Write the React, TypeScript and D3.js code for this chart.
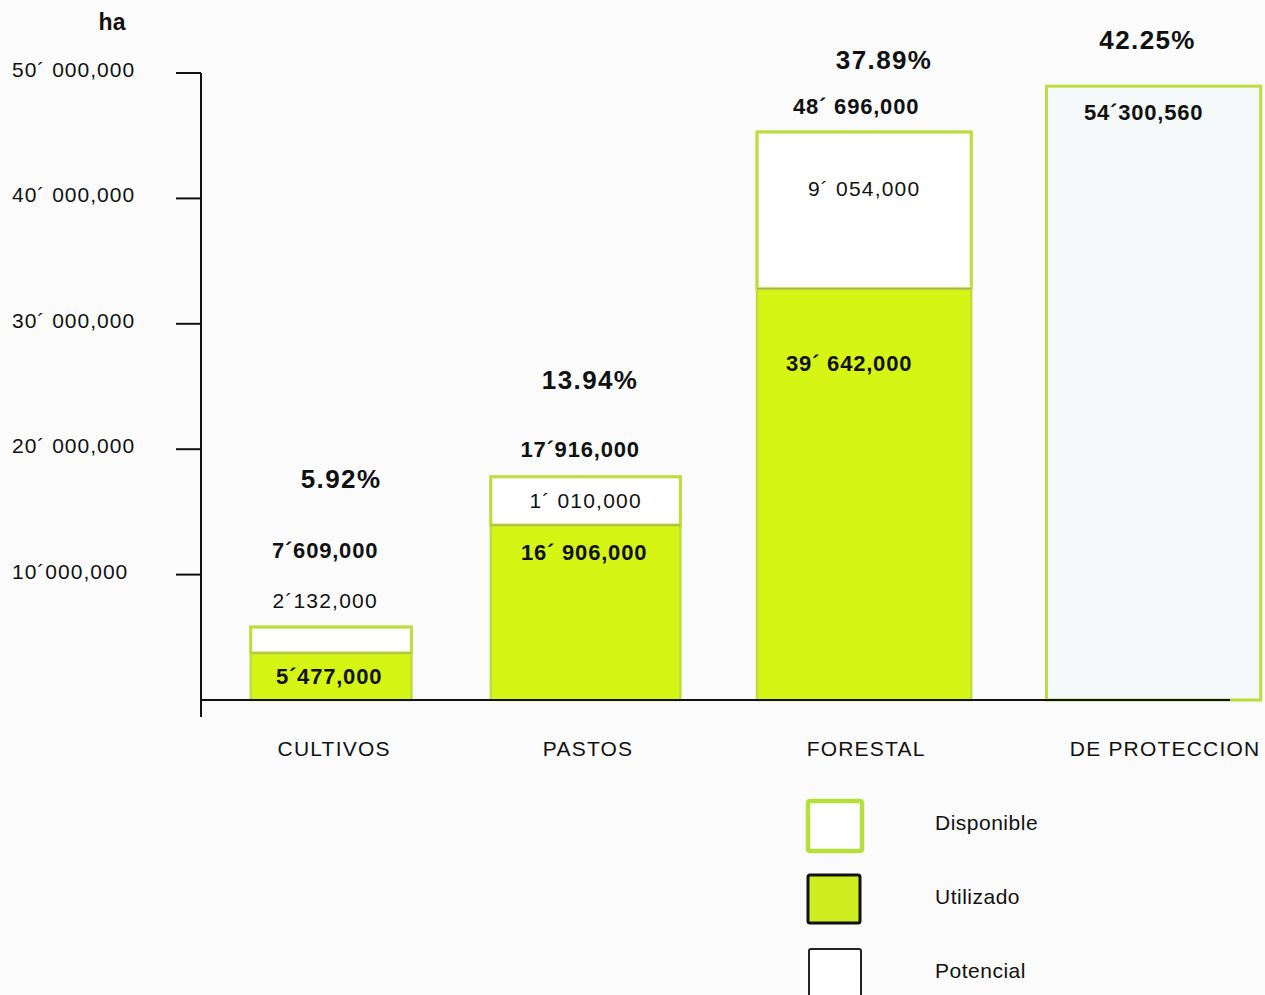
import React from "react";
import * as d3 from "d3";

// ---------- data ----------
const categories = ["CULTIVOS", "PASTOS", "FORESTAL", "DE PROTECCION"];
// bar heights as drawn in the picture (ha)
const totalDrawn = [5.82e6, 17.8e6, 45.3e6, 48.95e6];
const utilizadoDrawn = [3.75e6, 13.95e6, 32.8e6, 0];
// printed labels
const totalLabels = ["7´609,000", "17´916,000", "48´ 696,000", "54´300,560"];
const utilizadoLabels = ["5´477,000", "16´ 906,000", "39´ 642,000", ""];
const disponibleLabels = ["2´132,000", "1´ 010,000", "9´ 054,000", ""];
const percentLabels = ["5.92%", "13.94%", "37.89%", "42.25%"];
const yTicks = [10e6, 20e6, 30e6, 40e6, 50e6];
const yTickLabels = ["10´000,000", "20´ 000,000", "30´ 000,000", "40´ 000,000", "50´ 000,000"];
const legendLabels = ["Disponible", "Utilizado", "Potencial"];

// ---------- style / layout ----------
const FONT = "'Liberation Sans', Arial, Helvetica, sans-serif";
const GREEN = "#d5f514";
const GREEN_EDGE = "#bddd3e";
const INK = "#111";
const widthRatio = [0.75, 0.885, 1.0, 1.0];
const centerNudge = [9.4, -10.7, -6.8, 8.1];

export default function App() {
  const W = 1265;
  const H = 995;
  const y = d3.scaleLinear().domain([0, 50e6]).range([700, 73]);
  const x = d3.scaleBand<string>().domain(categories).range([214.6, 1252.6]).paddingInner(0.22).paddingOuter(0);
  const bw = x.bandwidth();
  const cx = (c: string) => (x(c) as number) + bw / 2 + centerNudge[categories.indexOf(c)];

  const valueStyle = (bold: boolean) => ({
    fontFamily: FONT,
    fontSize: bold ? 22 : 21,
    fontWeight: bold ? 700 : 400,
    letterSpacing: bold ? 0.8 : 1.2,
    fill: INK,
  });
  const pctStyle = { fontFamily: FONT, fontSize: 26, fontWeight: 700, letterSpacing: 1.4, fill: INK };

  return (
    <svg width={W} height={H} style={{ position: "fixed", left: 0, top: 0, background: "#fbfbfb" }}>
      <rect x={0} y={0} width={W} height={H} fill="#fbfbfb" />

      {/* bars */}
      {categories.map((c, i) => {
        const w = bw * widthRatio[i];
        const x0 = cx(c) - w / 2;
        const yTop = y(totalDrawn[i]);
        const yUt = y(utilizadoDrawn[i]);
        const y0 = y(0);
        const isProt = utilizadoDrawn[i] === 0;
        return (
          <g key={c}>
            {isProt ? (
              <rect x={x0} y={yTop} width={w} height={y0 - yTop} fill="#f6f9f9" stroke={GREEN_EDGE} strokeWidth={3} />
            ) : (
              <>
                <rect x={x0} y={yUt} width={w} height={y0 - yUt} fill={GREEN} />
                <rect x={x0} y={yTop} width={w} height={yUt - yTop} fill="#ffffff" stroke={GREEN_EDGE} strokeWidth={3} />
                <rect x={x0} y={yTop} width={w} height={y0 - yTop} fill="none" stroke={GREEN_EDGE} strokeWidth={2.5} />
                <line x1={x0} x2={x0 + w} y1={yUt} y2={yUt} stroke="#a7b34a" strokeWidth={1.2} />
              </>
            )}
          </g>
        );
      })}

      {/* axes */}
      <line x1={201} x2={201} y1={y(50e6)} y2={717} stroke={INK} strokeWidth={2} />
      <line x1={201} x2={1230} y1={y(0)} y2={y(0)} stroke={INK} strokeWidth={2} />
      {yTicks.map((t, i) => (
        <g key={t}>
          <line x1={176} x2={201} y1={y(t)} y2={y(t)} stroke={INK} strokeWidth={2} />
          <text x={12} y={y(t) + 4} style={{ fontFamily: FONT, fontSize: 21, letterSpacing: 1, fill: INK }}>
            {yTickLabels[i]}
          </text>
        </g>
      ))}
      <text x={112} y={30} textAnchor="middle" style={{ fontFamily: FONT, fontSize: 23, fontWeight: 700, fill: INK }}>
        ha
      </text>

      {/* labels */}
      {categories.map((c, i) => {
        const xc = cx(c);
        const yTop = y(totalDrawn[i]);
        const yUt = y(utilizadoDrawn[i]);
        const y0 = y(0);
        const items: React.ReactNode[] = [];
        const tb = 7.5; // half cap height
        if (i === 0) {
          items.push(<text key="u" x={xc - 2} y={(yUt + y0) / 2 + tb} textAnchor="middle" style={valueStyle(true)}>{utilizadoLabels[i]}</text>);
          items.push(<text key="d" x={xc - 6} y={yTop - 27 + tb} textAnchor="middle" style={valueStyle(false)}>{disponibleLabels[i]}</text>);
          items.push(<text key="t" x={xc - 6} y={yTop - 77 + tb} textAnchor="middle" style={valueStyle(true)}>{totalLabels[i]}</text>);
          items.push(<text key="p" x={xc + 10} y={yTop - 148 + 9} textAnchor="middle" style={pctStyle}>{percentLabels[i]}</text>);
        } else if (i === 1) {
          items.push(<text key="u" x={xc - 1.5} y={yUt + 27 + tb} textAnchor="middle" style={valueStyle(true)}>{utilizadoLabels[i]}</text>);
          items.push(<text key="d" x={xc} y={(yTop + yUt) / 2 + tb} textAnchor="middle" style={valueStyle(false)}>{disponibleLabels[i]}</text>);
          items.push(<text key="t" x={xc - 5.5} y={yTop - 27 + tb} textAnchor="middle" style={valueStyle(true)}>{totalLabels[i]}</text>);
          items.push(<text key="p" x={xc + 4.5} y={yTop - 97 + 9} textAnchor="middle" style={pctStyle}>{percentLabels[i]}</text>);
        } else if (i === 2) {
          items.push(<text key="u" x={xc - 15} y={yUt + 75 + tb} textAnchor="middle" style={valueStyle(true)}>{utilizadoLabels[i]}</text>);
          items.push(<text key="d" x={xc} y={yTop + 57 + tb} textAnchor="middle" style={valueStyle(false)}>{disponibleLabels[i]}</text>);
          items.push(<text key="t" x={xc - 8} y={yTop - 25 + tb} textAnchor="middle" style={valueStyle(true)}>{totalLabels[i]}</text>);
          items.push(<text key="p" x={xc + 20} y={yTop - 72 + 9} textAnchor="middle" style={pctStyle}>{percentLabels[i]}</text>);
        } else {
          items.push(<text key="t" x={xc - 10} y={yTop + 26 + tb} textAnchor="middle" style={valueStyle(true)}>{totalLabels[i]}</text>);
          items.push(<text key="p" x={xc - 6} y={yTop - 46 + 9} textAnchor="middle" style={pctStyle}>{percentLabels[i]}</text>);
        }
        return <g key={c}>{items}</g>;
      })}

      {/* category labels */}
      {categories.map((c, i) => {
        const shift = [3, 2.5, 2, 11.5][i];
        return (
          <text key={c} x={cx(c) + shift} y={756} textAnchor="middle" style={{ fontFamily: FONT, fontSize: 21, letterSpacing: 1.2, fill: INK }}>
            {c}
          </text>
        );
      })}

      {/* legend */}
      {legendLabels.map((l, i) => {
        const ly = 801 + i * 74;
        const styles = [
          { fill: "#ffffff", stroke: "#b4e03a", sw: 4.5, x: 808, w: 54, h: 50 },
          { fill: "#cfee22", stroke: INK, sw: 3, x: 808, w: 52, h: 48 },
          { fill: "#ffffff", stroke: "#222", sw: 2, x: 809, w: 52, h: 60 },
        ][i];
        return (
          <g key={l}>
            <rect x={styles.x} y={ly} width={styles.w} height={styles.h} rx={2} fill={styles.fill} stroke={styles.stroke} strokeWidth={styles.sw} />
            <text x={935} y={ly + 29} style={{ fontFamily: FONT, fontSize: 21, letterSpacing: 0.5, fill: INK }}>
              {l}
            </text>
          </g>
        );
      })}
    </svg>
  );
}
